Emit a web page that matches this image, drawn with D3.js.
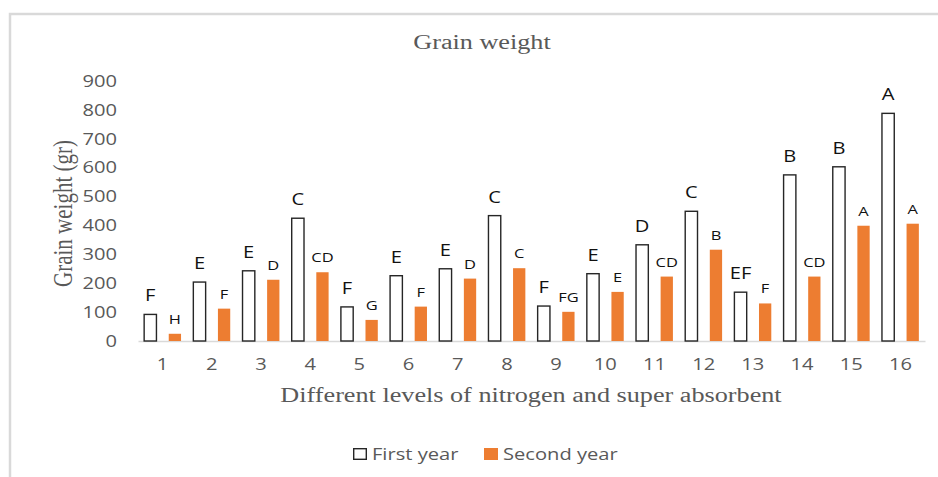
<!DOCTYPE html>
<html>
<head>
<meta charset="utf-8">
<script src="https://cdn.jsdelivr.net/npm/d3@7"></script>
<style>
  body { margin: 0; background: #fff; }
  svg { display: block; }
</style>
</head>
<body>
<script>
// chart data
var levels = ["1","2","3","4","5","6","7","8","9","10","11","12","13","14","15","16"];
var firstYear  = [92, 204, 243, 425, 118, 226, 250, 434, 121, 233, 333, 449, 169, 575, 603, 788];
var secondYear = [25, 112, 212, 238, 73, 119, 216, 252, 101, 170, 223, 316, 130, 223, 399, 406];
var firstLetters  = ["F","E","E","C","F","E","E","C","F","E","D","C","EF","B","B","A"];
var secondLetters = ["H","F","D","CD","G","F","D","C","FG","E","CD","B","F","CD","A","A"];
var yTicks = [0, 100, 200, 300, 400, 500, 600, 700, 800, 900];
var seriesNames = ["First year", "Second year"];

var width = 938, height = 477;
var margin = {top: 81, right: 13, bottom: 136, left: 138};
var sx = 1.22;      // the picture's text is stretched sideways
var sxSerif = 1.31; // serif titles a bit more

var orange = "#ED7D31", grey = "#595959";

var svg = d3.select("body").append("svg")
  .attr("width", width)
  .attr("height", height);

// outer frame (only top and left edges visible)
svg.append("rect")
  .attr("x", 10).attr("y", 14)
  .attr("width", 960).attr("height", 500)
  .attr("fill", "none")
  .attr("stroke", "#d9d9d9")
  .attr("stroke-width", 2.5);

var x = d3.scaleBand()
  .domain(levels)
  .range([margin.left, width - margin.right])
  .paddingInner(0).paddingOuter(0);

var x1 = d3.scaleBand()
  .domain([0, 1])
  .range([0, x.bandwidth()])
  .paddingInner(0.5).paddingOuter(0.25);

var y = d3.scaleLinear()
  .domain([0, 900])
  .range([height - margin.bottom, margin.top]);

// squeeze a text element sideways around its own x
function stretch(sel, f) {
  f = f || sx;
  sel.each(function() {
    var t = d3.select(this);
    var xv = +t.attr("x") || 0;
    t.attr("x", xv / f).attr("transform", "scale(" + f + ",1)");
  });
}

// y axis
var yAxis = svg.append("g")
  .attr("transform", "translate(" + (margin.left - 8) + ",0)")
  .call(d3.axisLeft(y).tickValues(yTicks).tickSize(0).tickPadding(13));
yAxis.select(".domain").remove();
yAxis.selectAll("text")
  .attr("fill", grey)
  .style("font-family", "'Open Sans', sans-serif")
  .style("font-size", "16.5px")
  .call(stretch);

// x axis
var xAxis = svg.append("g")
  .attr("transform", "translate(0," + y(0) + ")")
  .call(d3.axisBottom(x).tickSize(0).tickPadding(17));
xAxis.select(".domain")
  .attr("stroke", "#d9d9d9").attr("stroke-width", 1.5);
xAxis.selectAll("text")
  .attr("fill", grey)
  .style("font-family", "'Open Sans', sans-serif")
  .style("font-size", "16.5px")
  .call(stretch);

var groups = svg.append("g").selectAll("g")
  .data(levels)
  .join("g")
  .attr("transform", function(d) { return "translate(" + x(d) + ",0)"; });

// first year bars, open
groups.append("rect")
  .attr("x", x1(0))
  .attr("y", function(d, i) { return y(firstYear[i]); })
  .attr("width", x1.bandwidth())
  .attr("height", function(d, i) { return y(0) - y(firstYear[i]); })
  .attr("fill", "#fff")
  .attr("stroke", "#262626")
  .attr("stroke-width", 1.4);

// second year bars, orange
groups.append("rect")
  .attr("x", x1(1))
  .attr("y", function(d, i) { return y(secondYear[i]); })
  .attr("width", x1.bandwidth())
  .attr("height", function(d, i) { return y(0) - y(secondYear[i]); })
  .attr("fill", orange);

// significance letters
groups.append("text")
  .attr("x", x1(0) + x1.bandwidth() / 2)
  .attr("y", function(d, i) { return y(firstYear[i]) - 13; })
  .attr("text-anchor", "middle")
  .attr("fill", "#111")
  .style("font-family", "'Open Sans', sans-serif")
  .style("font-size", "16.5px")
  .text(function(d, i) { return firstLetters[i]; })
  .call(stretch);

groups.append("text")
  .attr("x", x1(1) + x1.bandwidth() / 2)
  .attr("y", function(d, i) { return y(secondYear[i]) - 10; })
  .attr("text-anchor", "middle")
  .attr("fill", "#111")
  .style("font-family", "'Open Sans', sans-serif")
  .style("font-size", "13.5px")
  .text(function(d, i) { return secondLetters[i]; })
  .call(stretch);

// title
svg.append("text")
  .attr("x", 482).attr("y", 49)
  .attr("text-anchor", "middle")
  .attr("fill", grey)
  .style("font-family", "'Liberation Serif', serif")
  .style("font-size", "20px")
  .text("Grain weight")
  .call(stretch, sxSerif);

// axis titles
svg.append("text")
  .attr("x", 531).attr("y", 402)
  .attr("text-anchor", "middle")
  .attr("fill", grey)
  .style("font-family", "'Liberation Serif', serif")
  .style("font-size", "20px")
  .text("Different levels of nitrogen and super absorbent")
  .call(stretch, sxSerif);

svg.append("text")
  .attr("transform", "translate(72,213.5) rotate(-90) scale(1,1.28)")
  .attr("text-anchor", "middle")
  .attr("fill", grey)
  .style("font-family", "'Liberation Serif', serif")
  .style("font-size", "21px")
  .text("Grain weight (gr)");

// legend
var legendX = [353, 484];
var legend = svg.append("g").selectAll("g")
  .data(seriesNames)
  .join("g")
  .attr("transform", function(d, i) { return "translate(" + legendX[i] + ",448)"; });

legend.append("rect")
  .attr("x", function(d, i) { return i === 0 ? 0.7 : 0; })
  .attr("y", function(d, i) { return i === 0 ? 0.7 : 0; })
  .attr("width", function(d, i) { return i === 0 ? 12.6 : 14; })
  .attr("height", function(d, i) { return i === 0 ? 10.6 : 12; })
  .attr("fill", function(d, i) { return i === 0 ? "#fff" : orange; })
  .attr("stroke", function(d, i) { return i === 0 ? "#262626" : "none"; })
  .attr("stroke-width", 1.4);

legend.append("text")
  .attr("x", 19).attr("y", 12)
  .attr("fill", grey)
  .style("font-family", "'Open Sans', sans-serif")
  .style("font-size", "16.5px")
  .text(function(d) { return d; })
  .call(stretch);
</script>
</body>
</html>
